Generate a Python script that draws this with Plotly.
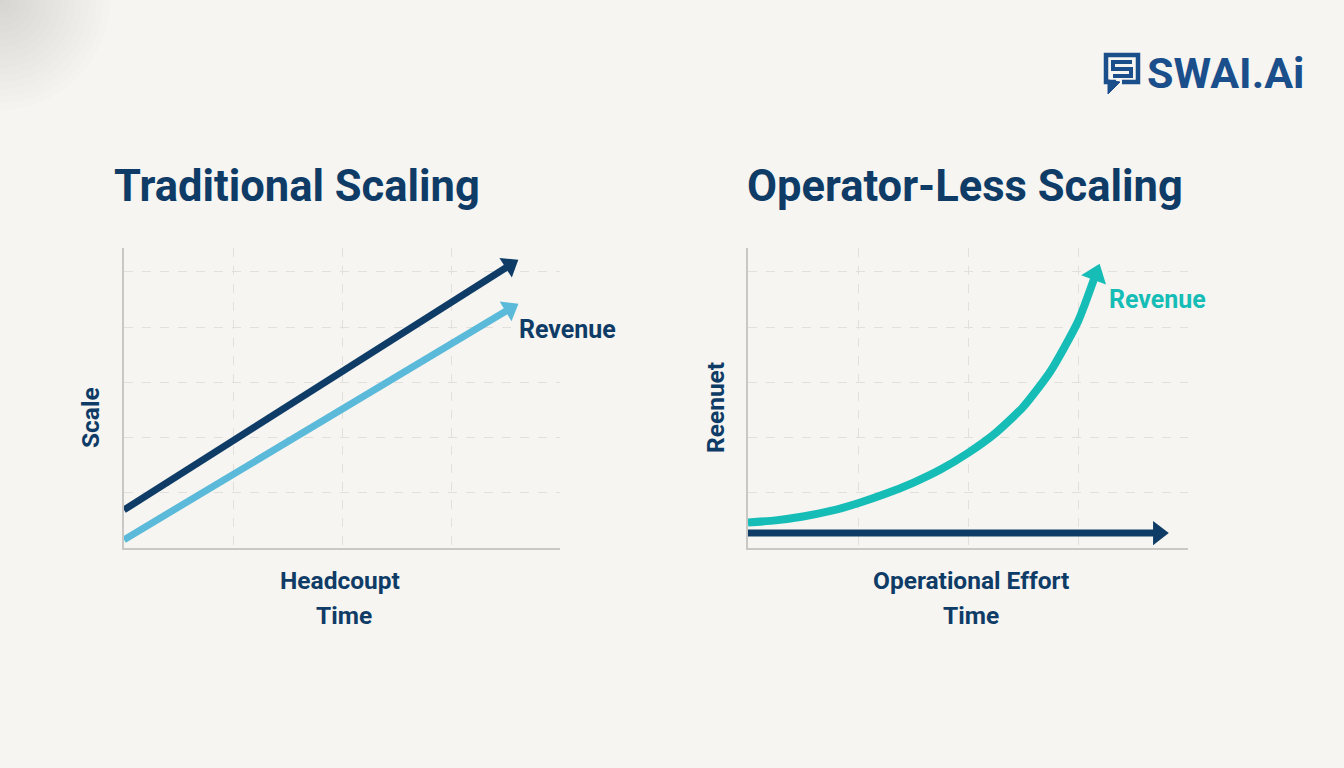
import plotly.graph_objects as go

W, H = 1344, 768

# ---------------- data ----------------
# Traditional Scaling (left panel)
trad_x = [0.0, 3.54]
trad_headcount = [0.69, 5.12]
trad_revenue = [0.15, 4.33]

# Operator-Less Scaling (right panel)
op_x = [0.0, 0.25, 0.5, 0.75, 1.0, 1.25, 1.5, 1.75, 2.0, 2.25, 2.5, 2.75, 3.0, 3.16]
op_revenue = [0.46, 0.5, 0.57, 0.67, 0.81, 0.98, 1.18, 1.42, 1.72, 2.08, 2.55, 3.2, 4.1, 4.95]
op_effort_x = [0.0, 3.73]
op_effort = [0.27, 0.27]

titles = ["Traditional Scaling", "Operator-Less Scaling"]
y_labels = ["Scale", "Reenuet"]
x_labels_top = ["Headcoupt", "Operational Effort"]
x_labels_bottom = ["Time", "Time"]
series_label = "Revenue"
label_pos_left = (3.606, 3.95)
label_pos_right = (3.264, 4.49)

# ---------------- style ----------------
BG = "#f6f5f1"
NAVY = "#0f3c67"
LIGHT = "#5bbad9"
TEAL = "#16bdb6"
GRID = "#e1e0dc"
AXIS = "#c9c8c4"
FONT = "Roboto"


def px(x):
    return x / W


def py(y):
    return 1 - y / H


fig = go.Figure()


def arrow_trace(x, y, color, xa, ya, width=7, head=20):
    fig.add_trace(go.Scatter(
        x=x, y=y, xaxis=xa, yaxis=ya, mode="lines",
        line=dict(color=color, width=width, shape="spline", smoothing=0.6),
        hoverinfo="skip", showlegend=False,
    ))
    fig.add_trace(go.Scatter(
        x=x[-2:], y=y[-2:], xaxis=xa, yaxis=ya, mode="markers",
        marker=dict(symbol="triangle-up", size=[0, head], color=color, angleref="previous",
                    opacity=1, line=dict(width=0)),
        hoverinfo="skip", showlegend=False,
    ))


arrow_trace(trad_x, trad_headcount, NAVY, "x", "y")
arrow_trace(trad_x, trad_revenue, LIGHT, "x", "y")
arrow_trace(op_x, op_revenue, TEAL, "x2", "y2", width=8, head=23)
arrow_trace(op_effort_x, op_effort, NAVY, "x2", "y2", width=7, head=21)

axis_common = dict(range=[0, 4], dtick=1, showgrid=True, gridcolor=GRID, griddash="dash",
                   gridwidth=1, showline=True, linecolor=AXIS, linewidth=1.5,
                   showticklabels=False, ticks="", zeroline=False, fixedrange=True)
yaxis_common = dict(axis_common, range=[0, 5.43])

fig.update_layout(
    width=W, height=H,
    margin=dict(l=0, r=0, t=0, b=0),
    paper_bgcolor=BG, plot_bgcolor=BG,
    showlegend=False,
    font=dict(family=FONT, color=NAVY),
    xaxis=dict(axis_common, domain=[px(124), px(560)], anchor="y"),
    yaxis=dict(yaxis_common, domain=[py(548), py(248)], anchor="x"),
    xaxis2=dict(axis_common, domain=[px(748), px(1188)], anchor="y2"),
    yaxis2=dict(yaxis_common, domain=[py(548), py(248)], anchor="x2"),
)


def txt(text, x, y, size, color=NAVY, xref="paper", yref="paper", xanchor="center", angle=0):
    return dict(text="<b>%s</b>" % text, x=x, y=y, xref=xref, yref=yref, showarrow=False,
                xanchor=xanchor, yanchor="middle", textangle=angle,
                font=dict(size=size, color=color, family=FONT))


ann = [
    txt(titles[0], px(297), py(186), 43.5),
    txt(titles[1], px(965), py(186), 43.5),
    txt(y_labels[0], px(90), py(418), 24.5, angle=-90),
    txt(y_labels[1], px(715), py(408), 24.5, angle=-90),
    txt(x_labels_top[0], px(340), py(580), 24.5),
    txt(x_labels_bottom[0], px(344), py(615), 24.5),
    txt(x_labels_top[1], px(971), py(580), 24.5),
    txt(x_labels_bottom[1], px(971), py(615), 24.5),
    txt(series_label, label_pos_left[0], label_pos_left[1], 25, NAVY, "x", "y", "left"),
    txt(series_label, label_pos_right[0], label_pos_right[1], 25, TEAL, "x2", "y2", "left"),
    dict(text="<b>SWAI.Ai</b>", x=px(1145), y=py(73), xref="paper", yref="paper",
         xanchor="left", yanchor="middle", showarrow=False,
         font=dict(size=43, color="#1b4f8c", family=FONT)),
]
fig.update_layout(annotations=ann)

# logo icon + corner shading
LOGO = "#1b4f8c"


def path(pts, close=False):
    s = "M %f,%f " % (px(pts[0][0]), py(pts[0][1]))
    for p in pts[1:]:
        s += "L %f,%f " % (px(p[0]), py(p[1]))
    if close:
        s += "Z"
    return s


shapes = []
for r in range(110, 0, -7):
    shapes.append(dict(type="circle", xref="paper", yref="paper", layer="below",
                       x0=px(-r), x1=px(r), y0=py(r), y1=py(-r),
                       fillcolor="rgba(110,110,110,0.013)", line=dict(width=0)))
shapes += [
    dict(type="path", xref="paper", yref="paper",
         path=path([(1116, 82), (1106, 82), (1106, 55), (1138, 55), (1138, 82), (1122, 82)]),
         line=dict(color=LOGO, width=4.5)),
    dict(type="path", xref="paper", yref="paper",
         path=path([(1108, 80), (1108, 94), (1120, 82)], close=True),
         fillcolor=LOGO, line=dict(color=LOGO, width=1)),
    dict(type="path", xref="paper", yref="paper",
         path=path([(1132, 62), (1113, 62), (1113, 69), (1131, 69), (1131, 76), (1113, 76)]),
         line=dict(color=LOGO, width=4)),
]
fig.update_layout(shapes=shapes)

fig.write_html("out.html")
